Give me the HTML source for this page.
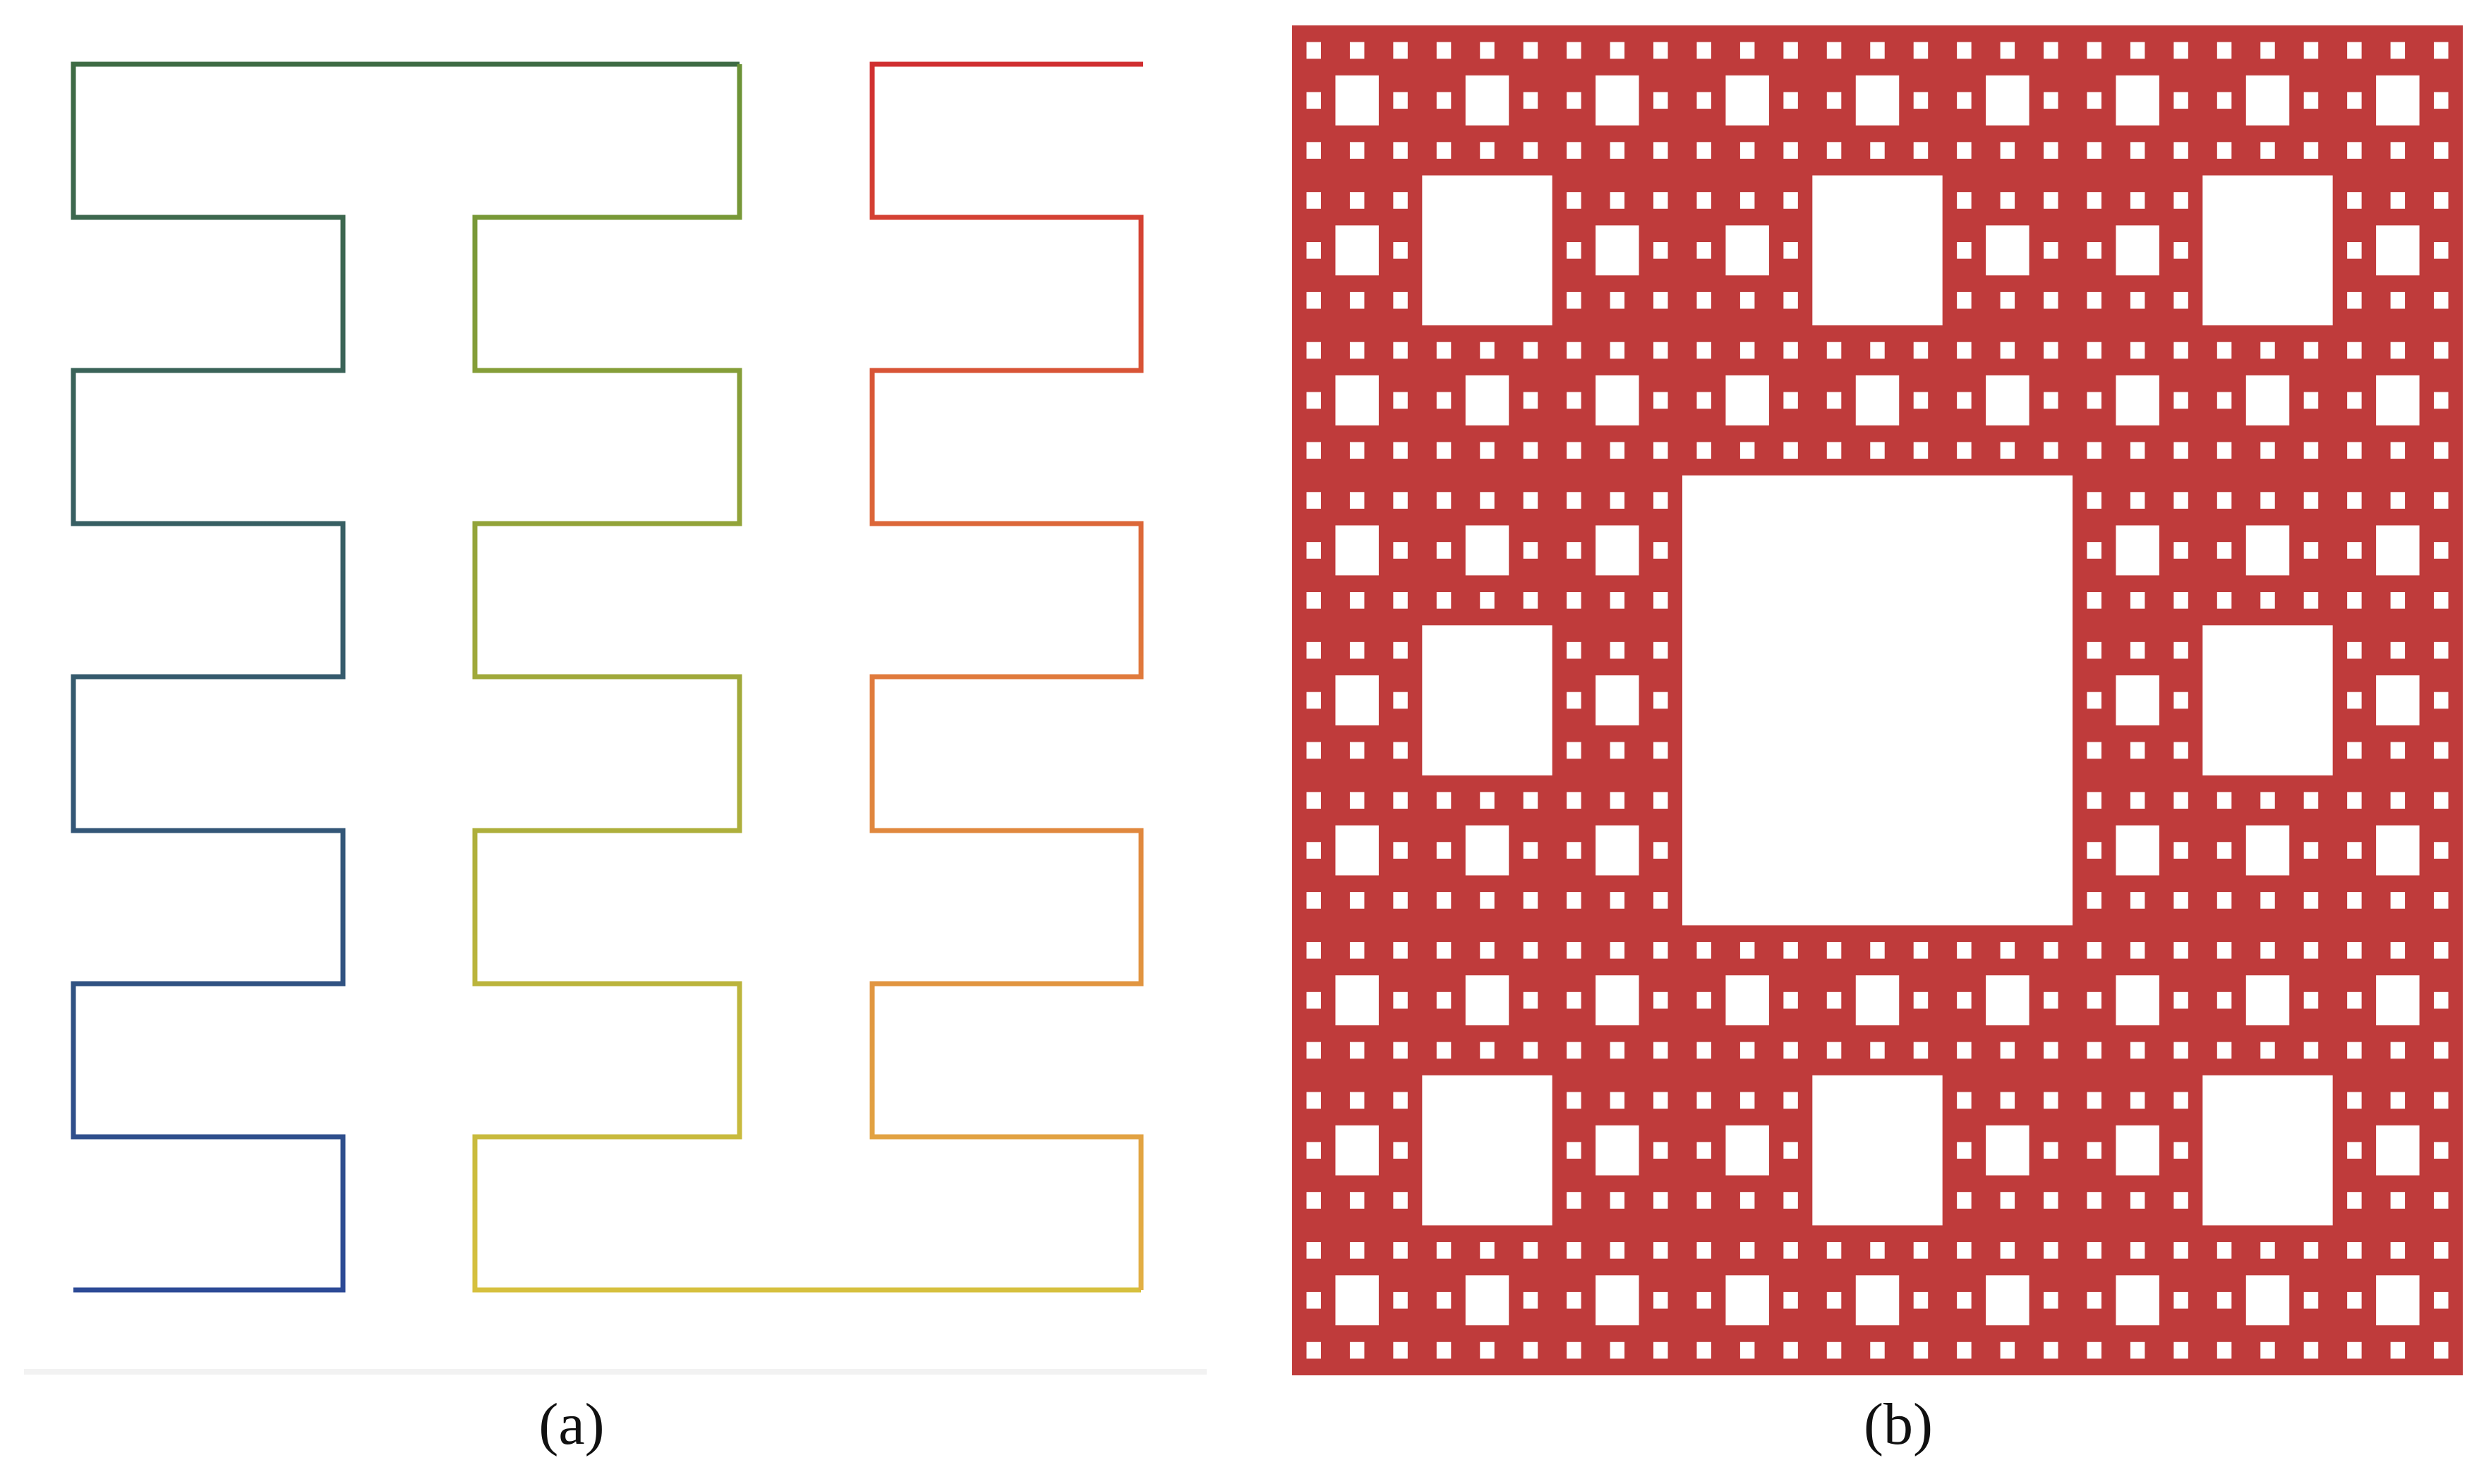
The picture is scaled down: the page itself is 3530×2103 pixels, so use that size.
<!DOCTYPE html>
<html><head><meta charset="utf-8"><style>
html,body{margin:0;padding:0;background:#fff;}
svg{display:block;}
</style></head><body>
<svg width="3530" height="2103" viewBox="0 0 3530 2103" xmlns="http://www.w3.org/2000/svg">
<defs>
<linearGradient id="gl" gradientUnits="userSpaceOnUse" x1="0" y1="1828" x2="0" y2="91">
<stop offset="0" stop-color="#2c4a96"/><stop offset="1" stop-color="#3e6b44"/></linearGradient>
<linearGradient id="gm" gradientUnits="userSpaceOnUse" x1="0" y1="91" x2="0" y2="1828">
<stop offset="0" stop-color="#6a9236"/><stop offset="1" stop-color="#d6c03e"/></linearGradient>
<linearGradient id="gr" gradientUnits="userSpaceOnUse" x1="0" y1="1828" x2="0" y2="91">
<stop offset="0" stop-color="#e2b044"/><stop offset="0.5" stop-color="#e07a3c"/><stop offset="1" stop-color="#d02e30"/></linearGradient>
<g id="h1"><rect x="27" y="27" width="27" height="27"/></g>
<g id="h2"><use href="#h1"/>
<use href="#h1" transform="translate(0,0) scale(0.3333333)"/><use href="#h1" transform="translate(27,0) scale(0.3333333)"/><use href="#h1" transform="translate(54,0) scale(0.3333333)"/>
<use href="#h1" transform="translate(0,27) scale(0.3333333)"/><use href="#h1" transform="translate(54,27) scale(0.3333333)"/>
<use href="#h1" transform="translate(0,54) scale(0.3333333)"/><use href="#h1" transform="translate(27,54) scale(0.3333333)"/><use href="#h1" transform="translate(54,54) scale(0.3333333)"/></g>
<g id="h3"><use href="#h1"/>
<use href="#h2" transform="translate(0,0) scale(0.3333333)"/><use href="#h2" transform="translate(27,0) scale(0.3333333)"/><use href="#h2" transform="translate(54,0) scale(0.3333333)"/>
<use href="#h2" transform="translate(0,27) scale(0.3333333)"/><use href="#h2" transform="translate(54,27) scale(0.3333333)"/>
<use href="#h2" transform="translate(0,54) scale(0.3333333)"/><use href="#h2" transform="translate(27,54) scale(0.3333333)"/><use href="#h2" transform="translate(54,54) scale(0.3333333)"/></g>
<g id="h4"><use href="#h1"/>
<use href="#h3" transform="translate(0,0) scale(0.3333333)"/><use href="#h3" transform="translate(27,0) scale(0.3333333)"/><use href="#h3" transform="translate(54,0) scale(0.3333333)"/>
<use href="#h3" transform="translate(0,27) scale(0.3333333)"/><use href="#h3" transform="translate(54,27) scale(0.3333333)"/>
<use href="#h3" transform="translate(0,54) scale(0.3333333)"/><use href="#h3" transform="translate(27,54) scale(0.3333333)"/><use href="#h3" transform="translate(54,54) scale(0.3333333)"/></g>
</defs>

<g fill="none" stroke-width="7" stroke-linejoin="miter" stroke-linecap="butt">
<polyline stroke="url(#gl)" points="104,1828 486,1828 486,1611 104,1611 104,1394 486,1394 486,1177 104,1177 104,959 486,959 486,742 104,742 104,525 486,525 486,308 104,308 104,91 1048,91"/>
<polyline stroke="url(#gm)" points="1048,91 1048,308 673,308 673,525 1048,525 1048,742 673,742 673,959 1048,959 1048,1177 673,1177 673,1394 1048,1394 1048,1611 673,1611 673,1828 1617,1828"/>
<polyline stroke="url(#gr)" points="1617,1828 1617,1611 1236,1611 1236,1394 1617,1394 1617,1177 1236,1177 1236,959 1617,959 1617,742 1236,742 1236,525 1617,525 1617,308 1236,308 1236,91 1620,91"/>
</g>
<rect x="34" y="1940" width="1676" height="8" fill="#f2f2f2"/>

<rect x="1831" y="36" width="1659" height="1913" fill="#bf3b3b"/>
<g fill="#ffffff" transform="translate(1831,36) scale(20.4815,23.6173)"><use href="#h4"/></g>

<text x="810" y="2046" font-family="Liberation Serif, serif" font-size="84" text-anchor="middle" fill="#111">(a)</text>
<text x="2690" y="2046" font-family="Liberation Serif, serif" font-size="84" text-anchor="middle" fill="#111">(b)</text>
</svg>
</body></html>
